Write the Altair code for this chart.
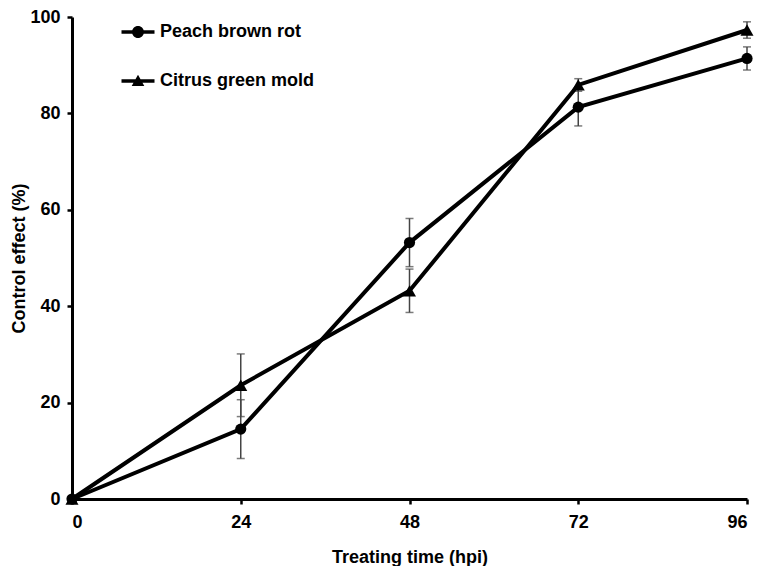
import altair as alt
import pandas as pd

hours = [0, 24, 48, 72, 96]
series = ["Peach brown rot", "Citrus green mold"]
peach = [0, 14.5, 53.2, 81.3, 91.4]
peach_err = [0, 6.1, 5.0, 3.9, 2.4]
citrus = [0, 23.6, 43.2, 85.9, 97.3]
citrus_err = [0, 6.5, 4.5, 1.3, 1.7]

rows = []
for name, vals, errs in [(series[0], peach, peach_err), (series[1], citrus, citrus_err)]:
    for h, v, e in zip(hours, vals, errs):
        rows.append({"hours": h, "value": v, "lo": v - e, "hi": v + e, "err": e, "series": name})
df = pd.DataFrame(rows)

FONT = "Liberation Sans"

x = alt.X("hours:Q", scale=alt.Scale(domain=[0, 96], nice=False),
          axis=alt.Axis(values=[0, 24, 48, 72, 96], title="Treating time (hpi)"))
y = alt.Y("value:Q", scale=alt.Scale(domain=[0, 100], nice=False),
          axis=alt.Axis(values=[0, 20, 40, 60, 80, 100], title="Control effect (%)"))

base = alt.Chart(df)

err_df = base.transform_filter("datum.err > 0")
err_rule = err_df.mark_rule(color="#444444", strokeWidth=1.5).encode(
    x=x, y=alt.Y("lo:Q"), y2="hi:Q")
cap_lo = err_df.mark_tick(color="#444444", thickness=1.5, size=8, orient="horizontal").encode(
    x=x, y=alt.Y("lo:Q"))
cap_hi = err_df.mark_tick(color="#444444", thickness=1.5, size=8, orient="horizontal").encode(
    x=x, y=alt.Y("hi:Q"))

lines = base.mark_line(color="black", strokeWidth=4).encode(
    x=x, y=y, detail="series:N")

points = base.mark_point(filled=True, color="black", opacity=1).encode(
    x=x, y=y,
    shape=alt.Shape("series:N", scale=alt.Scale(domain=series, range=["circle", "triangle-up"]), legend=None),
    size=alt.Size("series:O", scale=alt.Scale(domain=series, range=[125, 170]), legend=None),
)

# legend glyphs: a filled bar (the line) plus a filled marker, same winding
circle_path = "M-2.75,-0.3H2.75V0.3H-2.75ZM1,0A1,1,0,1,1,-1,0A1,1,0,1,1,1,0Z"
tri_path = "M-2.75,-0.3H2.75V0.3H-2.75ZM0,-1.05L1.05,0.85L-1.05,0.85Z"

legend_layer = base.mark_point(filled=True, color="black", opacity=0).encode(
    x=x, y=y,
    shape=alt.Shape("series:N", scale=alt.Scale(domain=series, range=[circle_path, tri_path]),
                    legend=alt.Legend(title=None, orient="none", legendX=57, legendY=6,
                                      symbolOpacity=1, symbolSize=144, symbolStrokeWidth=0,
                                      symbolFillColor="black",
                                      labelFont=FONT, labelFontSize=18, labelFontWeight="bold",
                                      labelColor="black", labelOffset=13, rowPadding=31,
                                      padding=0, labelLimit=400)),
)

chart = alt.layer(err_rule, cap_lo, cap_hi, lines, points, legend_layer).resolve_scale(
    shape="independent", size="independent"
).properties(
    width=675, height=482,
    autosize=alt.AutoSizeParams(type="none"),
    padding={"left": 64, "top": 9, "right": 10, "bottom": 67},
).configure_view(stroke=None).configure_axis(
    grid=False,
    domainColor="black", domainWidth=3,
    tickColor="black", tickWidth=2.5, tickSize=5,
    labelFont=FONT, labelFontSize=18, labelFontWeight="bold", labelColor="black",
    titleFont=FONT, titleFontSize=18, titleFontWeight="bold", titleColor="black",
).configure_axisX(labelPadding=9, titlePadding=17).configure_axisY(labelPadding=7, titlePadding=1)

chart.save("out.html", embed_options={"renderer": "svg", "actions": False})
